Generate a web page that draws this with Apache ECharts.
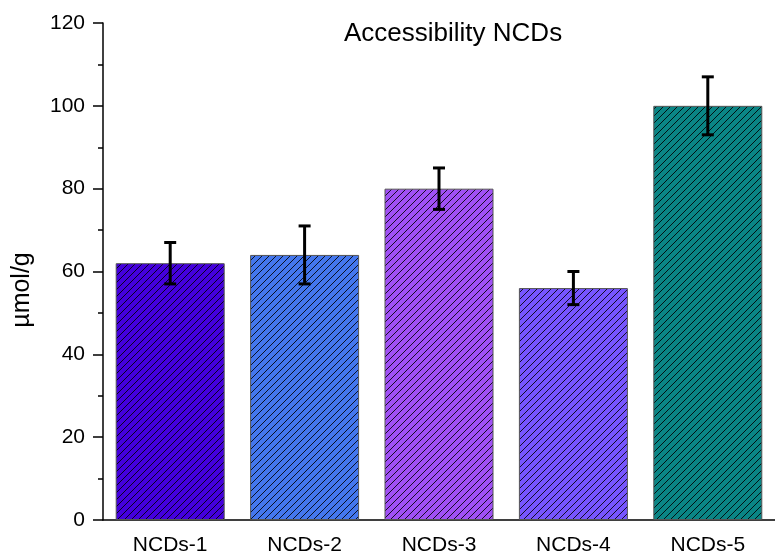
<!DOCTYPE html>
<html>
<head>
<meta charset="utf-8">
<script src="https://cdn.jsdelivr.net/npm/echarts@6/dist/echarts.min.js"></script>
<style>
html,body{margin:0;padding:0;background:#fff;}
#c{width:775px;height:558px;}
</style>
</head>
<body>
<div id="c"></div>
<script>
const categories = ['NCDs-1', 'NCDs-2', 'NCDs-3', 'NCDs-4', 'NCDs-5'];
const values = [62, 64, 80, 56, 100];
const errors = [5, 7, 5, 4, 7];
const colors = ['#4400dd', '#4477ee', '#a050f5', '#7755ff', '#0a8585'];
const yTicks = [0, 20, 40, 60, 80, 100, 120];

function hatch(color) {
  const s = 7;
  const cv = document.createElement('canvas');
  cv.width = s; cv.height = s;
  const ctx = cv.getContext('2d');
  ctx.fillStyle = color;
  ctx.fillRect(0, 0, s, s);
  ctx.strokeStyle = 'rgba(0,0,0,0.85)';
  ctx.lineWidth = 1;
  ctx.beginPath();
  ctx.moveTo(-1, 1); ctx.lineTo(1, -1);
  ctx.moveTo(0, s); ctx.lineTo(s, 0);
  ctx.moveTo(s - 1, s + 1); ctx.lineTo(s + 1, s - 1);
  ctx.stroke();
  return { image: cv, repeat: 'repeat' };
}

const chart = echarts.init(document.getElementById('c'));
const font = 'Liberation Sans, Arial, sans-serif';
chart.setOption({
  animation: false,
  title: {
    text: 'Accessibility NCDs',
    left: 339, top: 16,
    textStyle: { fontFamily: font, fontSize: 26, fontWeight: 'normal', color: '#000' }
  },
  graphic: [{
    type: 'text',
    x: 22, y: 290,
    rotation: Math.PI / 2,
    style: {
      text: 'µmol/g', fill: '#000',
      font: '25px Liberation Sans, Arial, sans-serif',
      textAlign: 'center', textVerticalAlign: 'middle'
    }
  }],
  grid: { left: 103, top: 23, bottom: 38, right: -6 },
  xAxis: [{
    type: 'category',
    data: categories,
    axisLine: { lineStyle: { color: '#000', width: 1.5 } },
    axisTick: { alignWithLabel: true, length: 10, lineStyle: { color: '#000', width: 1.5 } },
    axisLabel: { fontFamily: font, fontSize: 21, color: '#000', margin: 15 }
  }, {
    type: 'category',
    data: categories,
    position: 'bottom',
    axisLine: { show: false },
    axisTick: { length: 6, lineStyle: { color: '#000', width: 1.5 } },
    axisLabel: { show: false }
  }],
  yAxis: {
    type: 'value',
    min: yTicks[0], max: yTicks[yTicks.length - 1], interval: 20,
    axisLine: { show: true, lineStyle: { color: '#000', width: 1.5 } },
    axisTick: { show: true, length: 10, lineStyle: { color: '#000', width: 1.5 } },
    minorTick: { show: true, splitNumber: 2, length: 5, lineStyle: { color: '#000', width: 1.5 } },
    splitLine: { show: false },
    axisLabel: { fontFamily: font, fontSize: 21, color: '#000', margin: 18 }
  },
  series: [{
    type: 'bar',
    barWidth: 109,
    data: values.map((v, i) => ({
      value: v,
      itemStyle: { color: hatch(colors[i]), borderColor: '#555', borderWidth: 1 }
    }))
  }, {
    type: 'custom',
    data: values.map((v, i) => [i, v, errors[i]]),
    z: 10,
    renderItem: function (params, api) {
      const i = api.value(0), m = api.value(1), e = api.value(2);
      const top = api.coord([i, m + e]);
      const bot = api.coord([i, m - e]);
      const w = 6;
      const st = { stroke: '#000', lineWidth: 3, fill: null };
      return {
        type: 'group',
        children: [
          { type: 'line', shape: { x1: top[0], y1: top[1], x2: bot[0], y2: bot[1] }, style: st },
          { type: 'line', shape: { x1: top[0] - w, y1: top[1], x2: top[0] + w, y2: top[1] }, style: st },
          { type: 'line', shape: { x1: bot[0] - w, y1: bot[1], x2: bot[0] + w, y2: bot[1] }, style: st }
        ]
      };
    }
  }]
});
</script>
</body>
</html>
